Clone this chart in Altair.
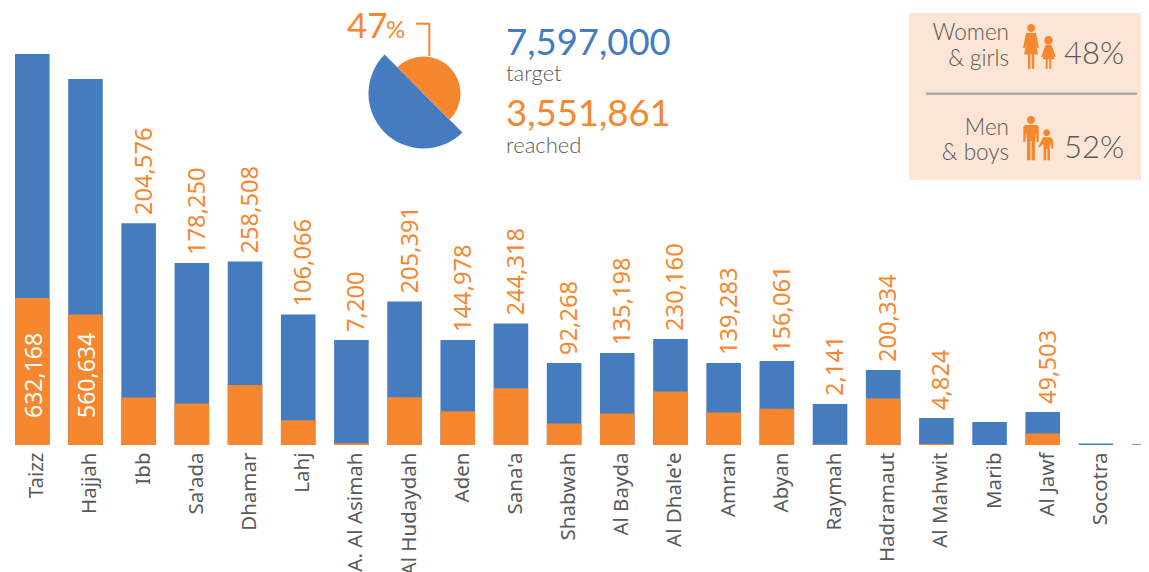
import math
import altair as alt
import pandas as pd

categories = ["Taizz", "Hajjah", "Ibb", "Sa'ada", "Dhamar", "Lahj", "A. Al Asimah", "Al Hudaydah", "Aden",
              "Sana'a", "Shabwah", "Al Bayda", "Al Dhale'e", "Amran", "Abyan", "Raymah", "Hadramaut",
              "Al Mahwit", "Marib", "Al Jawf", "Socotra", "Al Maharah"]
reached = [632168, 560634, 204576, 178250, 258508, 106066, 7200, 205391, 144978, 244318, 92268, 135198,
           230160, 139283, 156061, 2141, 200334, 4824, 0, 49503, 0, 0]
bar_total = [1681000, 1574000, 954000, 782600, 789000, 561000, 451500, 617000, 451500, 522000, 352600, 395600,
             456000, 352600, 361000, 176000, 322000, 116000, 99000, 142000, 6000, 3000]
pie_slices = ["reached", "target"]
pie_start = [0, 50]
pie_end = [50, 100]

BLUE = "#447CBF"
ORANGE = "#F6872E"
GREY = "#595959"
OX, OY = 8, 8
BASE = 437
PER_PX = 4300

df = pd.DataFrame({"cat": categories, "reached": reached, "total": bar_total, "zero": [0] * len(categories)})
df["label"] = [f"{v:,}" for v in reached]

xs = alt.X("cat:N", sort=categories,
           scale=alt.Scale(domain=categories, range=[-2.3, 1167.7], paddingInner=0.35, paddingOuter=0.175),
           axis=alt.Axis(title=None, domain=False, ticks=False, labelAngle=270, labelAlign="right",
                         labelBaseline="middle", labelPadding=7, labelOffset=5, labelFontSize=20.5,
                         labelFont="Noto Sans", labelColor=GREY, labelOverlap=False, labelLimit=400, grid=False))
yscale = alt.Scale(domain=[0, BASE * PER_PX], range=[BASE, 0], nice=False)
ys = lambda f: alt.Y(f"{f}:Q", scale=yscale, axis=None)

base = alt.Chart(df)
blue_bars = base.mark_bar(color=BLUE).encode(x=xs, y=ys("total"))
orange_bars = base.transform_filter("datum.reached > 0").mark_bar(color=ORANGE).encode(x=xs, y=ys("reached"))
labels_out = base.transform_filter(
    "datum.reached > 0 && datum.cat != 'Taizz' && datum.cat != 'Hajjah'"
).mark_text(angle=270, align="left", baseline="middle", dx=8, dy=6, font="Noto Sans", fontSize=23.7,
            color=ORANGE).encode(x=xs, y=ys("total"), text="label:N")
labels_in = base.transform_filter(
    "datum.cat == 'Taizz' || datum.cat == 'Hajjah'"
).mark_text(angle=270, align="left", baseline="middle", dx=27, dy=3, font="Noto Sans", fontSize=23,
            color="white").encode(x=xs, y=ys("zero"), text="label:N")


def val(n, off):
    return alt.value(n - off)


def txt(s, x, y, size, color, align="left", font="Lato", weight=400):
    return alt.Chart(pd.DataFrame({"t": [s]})).mark_text(
        align=align, baseline="alphabetic", fontSize=size, font=font, color=color, fontWeight=weight
    ).encode(text="t:N", x=val(x, OX), y=val(y, OY))


pie_df = pd.DataFrame({"slice": pie_slices, "start": pie_start, "end": pie_end})
theta_scale = alt.Scale(domain=[0, 100], range=[-math.pi / 4, 7 * math.pi / 4])


def slice_layer(name, radius, color):
    return alt.Chart(pie_df[pie_df.slice == name]).mark_arc(radius=radius, color=color).encode(
        theta=alt.Theta("start:Q", scale=theta_scale), theta2="end:Q",
        x=val(423.5, OX), y=val(93.5, OY))


def rule(x1, y1, x2, y2, color, width):
    return alt.Chart(pd.DataFrame({"a": [0]})).mark_rule(color=color, strokeWidth=width).encode(
        x=val(x1, OX), x2=val(x2, OX), y=val(y1, OY), y2=val(y2, OY))


panel = alt.Chart(pd.DataFrame({"a": [0]})).mark_rect(color="#FCE5D4").encode(
    x=val(909, OX), x2=val(1149, OX), y=val(13, OY), y2=val(180, OY))


def circle(cx, cy, r):
    return f"M{cx - r},{cy}A{r},{r} 0 1,0 {cx + r},{cy}A{r},{r} 0 1,0 {cx - r},{cy}Z"


def poly(pts):
    return "M" + "L".join(f"{x},{y}" for x, y in pts) + "Z"


def icon(cx, cy, parts, span=46):
    # parts are drawn in pixel offsets from the icon centre, normalised to the symbol box
    k = span / 2
    d = ""
    for p in parts:
        if p[0] == "c":
            d += circle(round(p[1] / k, 3), round(p[2] / k, 3), round(p[3] / k, 3))
        else:
            d += poly([(round(x / k, 3), round(y / k, 3)) for x, y in p[1]])
    return alt.Chart(pd.DataFrame({"a": [0]})).mark_point(
        shape=d, size=span * span, filled=True, opacity=1, color=ORANGE, strokeWidth=0
    ).encode(x=val(cx, OX), y=val(cy, OY))


woman = icon(1031, 46.5, [
    ("c", 0.2, -18.5, 4),
    ("p", [(-5, -13.5), (5, -13.5), (8, 1.5), (6, 1.5), (4.5, -4), (7, 8), (-7, 8), (-4.5, -4), (-6, 1.5), (-8, 1.5)]),
    ("p", [(-3, 8), (-0.6, 8), (-0.6, 22.5), (-3, 22.5)]),
    ("p", [(0.8, 8), (3.2, 8), (3.2, 22.5), (0.8, 22.5)]),
])
girl = icon(1048.5, 52.7, [
    ("c", 0, -12.4, 4.3),
    ("p", [(-3, -8), (3, -8), (7.2, 4), (5.6, 4.6), (3, -1.5), (6, 6.5), (-6, 6.5), (-3, -1.5), (-5.6, 4.6), (-7.2, 4)]),
    ("p", [(-2.8, 6.5), (-0.8, 6.5), (-0.8, 16.3), (-2.8, 16.3)]),
    ("p", [(0.8, 6.5), (2.8, 6.5), (2.8, 16.3), (0.8, 16.3)]),
])
man = icon(1031, 138, [
    ("c", 0, -18, 4),
    ("p", [(-6, -13), (6, -13), (7.7, -11), (7.7, 4), (5.5, 4), (5, -5), (4, 2), (4, 22.3), (0.6, 22.3), (0.6, 3),
           (-0.6, 3), (-0.6, 22.3), (-4, 22.3), (-4, 2), (-5, -5), (-5.5, 4), (-7.7, 4), (-7.7, -11)]),
])
boy = icon(1046, 144.7, [
    ("c", 0.7, -12, 3.4),
    ("p", [(-3, -7.5), (4.5, -7.5), (7.2, -5), (7.2, 4), (5.6, 4), (5, -2), (4, 3), (4, 15.6), (1.4, 15.6), (1.4, 4),
           (0.2, 4), (0.2, 15.6), (-2.4, 15.6), (-2.4, 3), (-3, -1), (-6.4, 3), (-7.7, 1.8)]),
])

chart = alt.layer(
    blue_bars, orange_bars, labels_out, labels_in,
    slice_layer("target", 55, BLUE), slice_layer("reached", 37, ORANGE),
    rule(416, 23.7, 430, 23.7, ORANGE, 2), rule(429.3, 23.7, 429.3, 56, ORANGE, 2),
    txt("47", 347, 38, 35, ORANGE), txt("%", 386, 38, 24, ORANGE),
    txt("7,597,000", 506, 55, 36.5, BLUE), txt("target", 506, 81, 22, GREY, weight=300),
    txt("3,551,861", 506, 126, 36.5, ORANGE), txt("reached", 506, 153, 22, GREY, weight=300),
    panel, rule(926, 93.7, 1137, 93.7, "#A7A9AC", 2.5),
    txt("Women", 1009, 40, 22.5, GREY, "right", weight=300), txt("& girls", 1009, 66, 22.5, GREY, "right", weight=300),
    txt("Men", 1009, 135, 22.5, GREY, "right", weight=300), txt("& boys", 1009, 160, 22.5, GREY, "right", weight=300),
    txt("48%", 1064, 64, 31, GREY, weight=300), txt("52%", 1064, 158, 31, GREY, weight=300),
    woman, girl, man, boy,
).properties(
    width=1133, height=BASE,
    autosize=alt.AutoSizeParams(type="none"),
    padding={"left": 0, "top": 0, "right": 0, "bottom": 127},
).configure_view(stroke=None)

chart.save("out.html", embed_options={"renderer": "svg", "actions": False})
